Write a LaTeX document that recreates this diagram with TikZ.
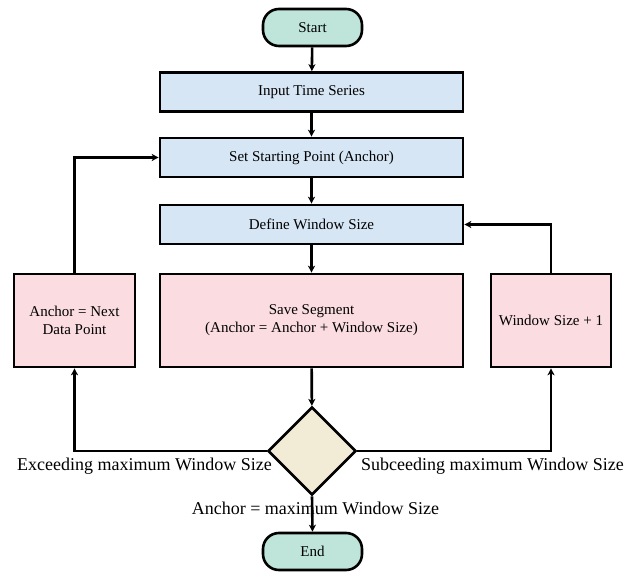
\documentclass[tikz,border=0pt]{standalone}
\usepackage{fontspec}
\setmainfont{Liberation Serif}
\usetikzlibrary{shapes.geometric,arrows.meta}
\definecolor{cterm}{HTML}{BFE4DA}
\definecolor{cblue}{HTML}{D6E6F5}
\definecolor{cpink}{HTML}{FADCE1}
\definecolor{cdia}{HTML}{F2ECD6}
\tikzset{
  base/.style={draw=black, line width=2.6pt, inner sep=2pt, align=center, font=\fontsize{15}{18}\selectfont},
  term/.style={base, fill=cterm, rounded corners=16pt, minimum width=99pt, minimum height=37pt},
  proc/.style={base, fill=cblue, minimum width=303pt, minimum height=39pt},
  pinkbox/.style={base, fill=cpink, minimum height=93pt},
  decision/.style={base, diamond, fill=cdia, minimum width=88pt, minimum height=88pt, inner sep=0pt},
  conn/.style={line width=2.6pt, -{Stealth[length=7pt,width=7pt,inset=2pt]}},
  lbl/.style={font=\fontsize{18}{21}\selectfont, inner sep=0pt}
}
\begin{document}
\begin{tikzpicture}[x=1pt,y=-1pt]
\useasboundingbox (0,0) rectangle (637,572);
\node[term] (start) at (312.5,27.5) {Start};
\node[proc] (input) at (311.5,92) {Input Time Series};
\node[proc] (anchor) at (311.5,157.5) {Set Starting Point (Anchor)};
\node[proc] (window) at (311.5,224.5) {Define Window Size};
\node[pinkbox, minimum width=303pt] (save) at (311.5,320.5) {Save Segment\\(Anchor = Anchor + Window Size)};
\node[pinkbox, minimum width=121pt] (next) at (74.5,320.5) {Anchor = Next\\Data Point};
\node[pinkbox, minimum width=120pt] (inc) at (551,320.5) {Window Size + 1};
\node[decision] (dec) at (312,451) {};
\node[term] (end) at (312.5,551.5) {End};
\coordinate (lc) at (74.5,451);
\coordinate (rc) at (551,451);
\coordinate (lt) at (74.5,157.5);
\coordinate (rt) at (551,224.5);
\draw[conn] (start) -- (input);
\draw[conn] (input) -- (anchor);
\draw[conn] (anchor) -- (window);
\draw[conn] (window) -- (save);
\draw[conn] (save) -- (dec);
\draw[conn] (dec.west) -- (lc) -- (next.south);
\draw[conn] (next.north) -- (lt) -- (anchor.west);
\draw[conn] (dec.east) -- (rc) -- (inc.south);
\draw[conn] (inc.north) -- (rt) -- (window.east);
\draw[conn] (dec.south) -- (end.north);
\node[lbl, anchor=north east] (l1) at (272,458) {Exceeding maximum Window Size};
\node[lbl, anchor=north west] (l2) at (361,458) {Subceeding maximum Window Size};
\node[lbl] (l3) at (315.5,508) {Anchor = maximum Window Size};
\end{tikzpicture}
\end{document}
